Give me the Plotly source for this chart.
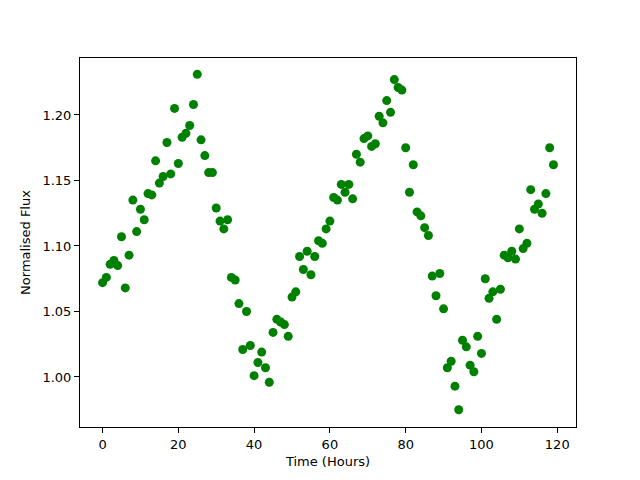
import plotly.graph_objects as go

hours = list(range(120))
flux = [
    1.072, 1.076, 1.086, 1.089, 1.085, 1.107, 1.068, 1.093, 1.135, 1.111,
    1.128, 1.120, 1.140, 1.139, 1.165, 1.148, 1.153, 1.179, 1.155, 1.205,
    1.163, 1.183, 1.186, 1.192, 1.208, 1.231, 1.181, 1.169, 1.156, 1.156,
    1.129, 1.119, 1.113, 1.120, 1.076, 1.074, 1.056, 1.021, 1.050, 1.024,
    1.001, 1.011, 1.019, 1.007, 0.996, 1.034, 1.044, 1.042, 1.040, 1.031,
    1.061, 1.065, 1.092, 1.082, 1.096, 1.078, 1.092, 1.104, 1.102, 1.113,
    1.119, 1.137, 1.135, 1.147, 1.141, 1.147, 1.136, 1.170, 1.164, 1.182,
    1.184, 1.176, 1.178, 1.199, 1.194, 1.211, 1.202, 1.227, 1.221, 1.219,
    1.175, 1.141, 1.162, 1.126, 1.123, 1.114, 1.108, 1.077, 1.062, 1.079,
    1.052, 1.007, 1.012, 0.993, 0.975, 1.028, 1.023, 1.009, 1.004, 1.031,
    1.018, 1.075, 1.060, 1.065, 1.044, 1.067, 1.093, 1.091, 1.096, 1.090,
    1.113, 1.098, 1.102, 1.143, 1.128, 1.132, 1.125, 1.140, 1.175, 1.162,
]

x_ticks = [0, 20, 40, 60, 80, 100, 120]
y_ticks = [1.00, 1.05, 1.10, 1.15, 1.20]

fig = go.Figure(go.Scatter(
    x=hours, y=flux, mode="markers",
    marker=dict(color="#008000", size=9, line=dict(width=0)),
))

font = dict(family="DejaVu Sans", size=13, color="black")
fig.update_layout(
    width=632, height=472,
    margin=dict(l=72, r=64, t=50, b=53),
    paper_bgcolor="white", plot_bgcolor="white",
    font=font, showlegend=False,
)
fig.update_xaxes(
    range=[-5.95, 124.95], tickvals=x_ticks, ticktext=[str(t) for t in x_ticks],
    showgrid=False, zeroline=False, showline=True, mirror=True, automargin=False,
    linecolor="black", linewidth=1, ticks="outside", ticklen=5, tickcolor="black",
    title=dict(text="Time (Hours)", font=font, standoff=6),
)
fig.update_yaxes(
    range=[0.9618, 1.2435], tickvals=y_ticks, ticktext=[f"{t:.2f}" for t in y_ticks],
    showgrid=False, zeroline=False, showline=True, mirror=True, automargin=False,
    linecolor="black", linewidth=1, ticks="outside", ticklen=5, tickcolor="black",
    title=dict(text="Normalised Flux", font=font, standoff=8),
)
fig.write_html("out.html")
